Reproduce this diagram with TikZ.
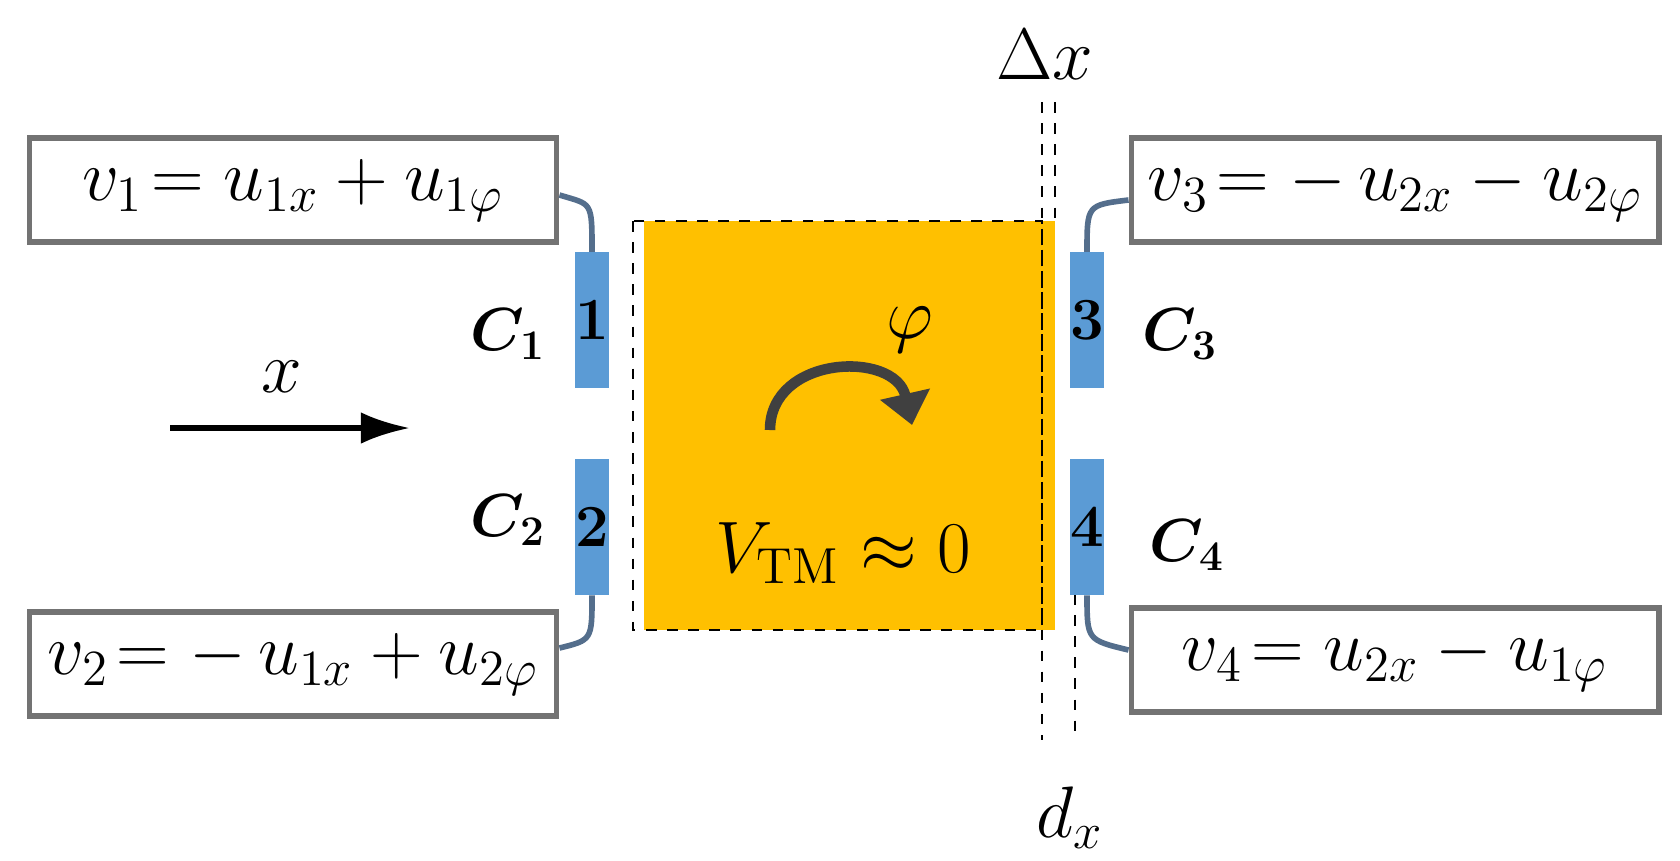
\documentclass[tikz,border=0pt]{standalone}
\usepackage{bm}
\usetikzlibrary{arrows.meta}
\definecolor{gold}{RGB}{255,192,0}
\definecolor{elec}{RGB}{91,155,213}
\definecolor{wire}{RGB}{84,110,140}
\tikzset{
  eqbox/.style={draw=black!55,line width=1.6pt,minimum width=5.27cm,minimum height=1.04cm,font=\fontsize{21}{25}\selectfont},
  electrode/.style={fill=elec,minimum width=0.25cm,minimum height=1.35cm,inner sep=0pt,font=\fontsize{17}{20}\selectfont\bfseries},
  lab/.style={font=\fontsize{22}{26}\selectfont},
  clab/.style={font=\fontsize{18}{22}\selectfont},
  guide/.style={dashed,line width=0.8pt},
  lead/.style={wire,line width=1.6pt}
}
\begin{document}
\begin{tikzpicture}[x=0.01cm,y=-0.01cm]
\useasboundingbox (0,0) rectangle (1680,860);
% body
\fill[gold] (644,221) rectangle (1055,630);
\draw[guide] (633,221) rectangle (1042,630);
\coordinate (a1) at (1042,102); \coordinate (a2) at (1042,740);
\coordinate (b1) at (1055,102); \coordinate (b2) at (1055,221);
\coordinate (c1) at (1075,594); \coordinate (c2) at (1075,740);
\draw[guide] (a1) -- (a2);
\draw[guide] (b1) -- (b2);
\draw[guide] (c1) -- (c2);
% electrodes
\node[electrode] (e1) at (592,320) {1};
\node[electrode] (e2) at (592,527) {2};
\node[electrode] (e3) at (1087,320) {3};
\node[electrode] (e4) at (1087,527) {4};
\node[clab] (c1l) at (508,334) {$\bm{C_1}$};
\node[clab] (c2l) at (508,520) {$\bm{C_2}$};
\node[clab] (c3l) at (1180,334) {$\bm{C_3}$};
\node[clab] (c4l) at (1187,545) {$\bm{C_4}$};
% equations
\node[eqbox] (v1) at (293,190) {$v_1\!= u_{1x}+u_{1\varphi}$};
\node[eqbox] (v2) at (293,664) {$v_2\!=-\,u_{1x}+u_{2\varphi}$};
\node[eqbox] (v3) at (1395,190) {$v_3\!=-\,u_{2x}-u_{2\varphi}$};
\node[eqbox] (v4) at (1395,660) {$v_4\!= u_{2x}-u_{1\varphi}$};
\draw[lead] (v1.east|-0,195) .. controls (592,205) and (592,200) .. (e1.north);
\draw[lead] (e2.south) .. controls (592,640) and (592,640) .. (v2.east|-0,648);
\draw[lead] (v3.west|-0,200) .. controls (1087,205) and (1087,205) .. (e3.north);
\draw[lead] (e4.south) .. controls (1087,640) and (1087,640) .. (v4.west|-0,650);
% motion
\coordinate (xs) at (170,428); \coordinate (xe) at (410,428);
\draw[-{Latex[length=14pt,width=9pt]},line width=1.6pt] (xs) -- (xe);
\node[lab] (xl) at (282,377) {$x$};
\coordinate (rs) at (770,430); \coordinate (re) at (912,425);
\draw[-{Triangle[length=9pt,width=14pt]},line width=3pt,black!75] (rs) .. controls (770,355) and (895,350) .. (re);
\node[lab] (phi) at (910,330) {$\varphi$};
\node[lab] (vtm) at (843,553) {$V_{\mathrm{TM}}\approx 0$};
\node[lab] (dX) at (1045,55) {$\Delta x$};
\node[lab] (dx) at (1070,818) {$d_x$};
\end{tikzpicture}
\end{document}
